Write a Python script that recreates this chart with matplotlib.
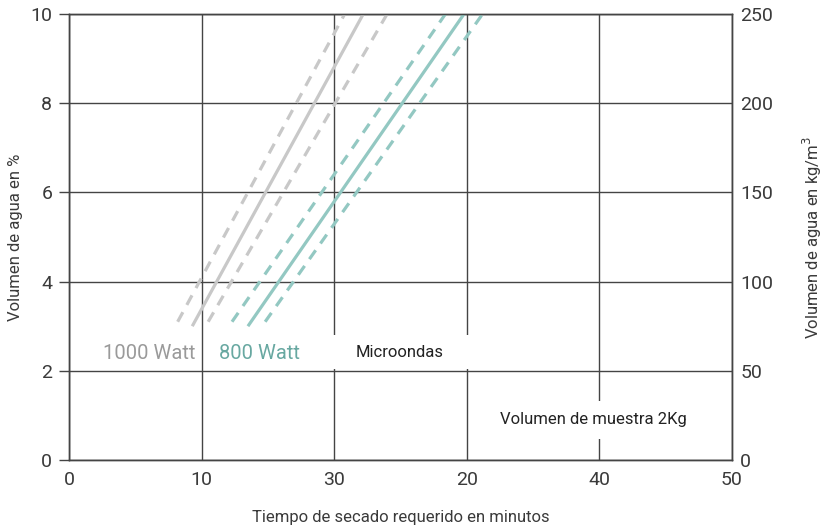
import matplotlib
matplotlib.use("Agg")
import matplotlib.pyplot as plt
from matplotlib.patches import Rectangle

plt.rcParams['font.family'] = ['Roboto', 'DejaVu Sans']

# 1000 Watt band (grey): centre line and the two dashed limits
w1000_y = [3.0, 10.0]
w1000_mid_x = [9.3, 22.2]
w1000_lo_x = [8.2, 20.8]
w1000_hi_x = [10.5, 24.0]
w1000_dash_y = [3.1, 10.0]

# 800 Watt band (teal)
w800_y = [3.0, 10.0]
w800_mid_x = [13.5, 29.8]
w800_lo_x = [12.3, 28.4]
w800_hi_x = [14.8, 31.2]
w800_dash_y = [3.1, 10.0]

x_ticks = [0, 10, 20, 30, 40, 50]
x_labels = ["0", "10", "30", "20", "40", "50"]
y_ticks = [0, 2, 4, 6, 8, 10]
y2_ticks = [0, 50, 100, 150, 200, 250]

grey = "#c8c8c8"
teal = "#93c8c2"
dark = "#3a3a3a"

fig = plt.figure(figsize=(8.25, 5.25), dpi=100)
ax = fig.add_axes([0.0836, 0.1238, 0.8034, 0.8495])

ax.set_xlim(0, 50)
ax.set_ylim(0, 10)
ax.set_xticks(x_ticks)
ax.set_xticklabels(x_labels)
ax.set_yticks(y_ticks)
ax.set_axisbelow(True)
ax.grid(True, color="#444444", linewidth=1.0)
ax.tick_params(axis="x", length=0, pad=8, labelsize=14, labelcolor=dark)
ax.tick_params(axis="y", length=7, width=1, color="#444444", pad=5, labelsize=14, labelcolor=dark)
ax.set_xticks([0, 50], minor=True)
ax.tick_params(axis="x", which="minor", length=7, width=1, color="#444444")
for s in ax.spines.values():
    s.set_color("#444444")
    s.set_linewidth(1.0)

ax.set_xlabel("Tiempo de secado requerido en minutos", fontsize=12, color=dark, labelpad=15)
ax.set_ylabel("Volumen de agua en %", fontsize=12, color=dark, labelpad=5)

lw = 2.3
dash = (0, (3.4, 2.6))
ax.plot(w1000_mid_x, w1000_y, color=grey, lw=lw, zorder=3, solid_capstyle="butt")
ax.plot(w1000_lo_x, w1000_dash_y, color=grey, lw=lw, ls=dash, zorder=3)
ax.plot(w1000_hi_x, w1000_dash_y, color=grey, lw=lw, ls=dash, zorder=3)
ax.plot(w800_mid_x, w800_y, color=teal, lw=lw, zorder=3, solid_capstyle="butt")
ax.plot(w800_lo_x, w800_dash_y, color=teal, lw=lw, ls=dash, zorder=3)
ax.plot(w800_hi_x, w800_dash_y, color=teal, lw=lw, ls=dash, zorder=3)

# white patch that cuts the grid behind "Microondas"
ax.add_patch(Rectangle((19.7, 2.04), 10.6, 0.76, facecolor="white", edgecolor="none", zorder=1))

ax.text(9.5, 2.38, "1000 Watt", ha="right", va="center", fontsize=14.5, color="#9a9a9a", zorder=4)
ax.text(11.3, 2.38, "800 Watt", ha="left", va="center", fontsize=14.5, color="#68a8a1", zorder=4)
ax.text(21.6, 2.4, "Microondas", ha="left", va="center", fontsize=12, color="#222222", zorder=4)
ax.text(32.5, 0.9, "Volumen de muestra 2Kg", ha="left", va="center", fontsize=12, color="#222222",
        zorder=4, bbox=dict(facecolor="white", edgecolor="none", pad=8))

ax2 = ax.twinx()
ax2.set_ylim(0, 250)
ax2.set_yticks(y2_ticks)
ax2.tick_params(axis="y", length=0, pad=6, labelsize=14, labelcolor=dark)
for s in ax2.spines.values():
    s.set_color("#444444")
    s.set_linewidth(1.0)
ax2.set_ylabel("Volumen de agua en kg/m$^3$", fontsize=12, color=dark, labelpad=20)

fig.savefig("out.png", dpi=100)
